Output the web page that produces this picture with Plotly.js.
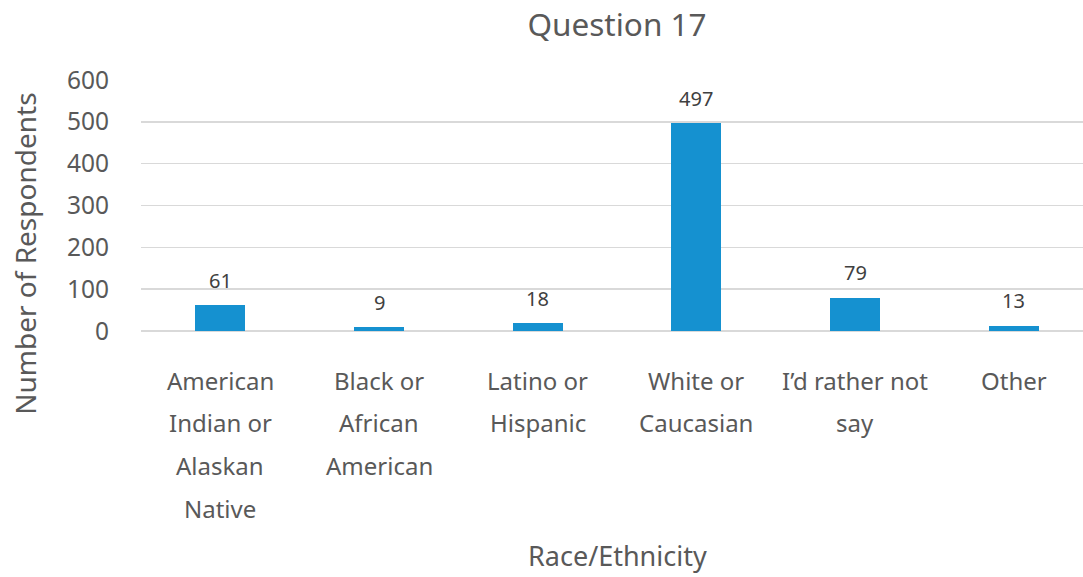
<!DOCTYPE html>
<html>
<head>
<meta charset="utf-8">
<script src="https://cdn.plot.ly/plotly-3.0.1.min.js"></script>
<style>html,body{margin:0;padding:0;background:#fff;}#chart{width:1083px;height:577px;}</style>
</head>
<body>
<div id="chart"></div>
<script>
const categories = ["American<br>Indian or<br>Alaskan<br>Native", "Black or<br>African<br>American", "Latino or<br>Hispanic", "White or<br>Caucasian", "I’d rather not<br>say", "Other"];
const values = [61, 9, 18, 497, 79, 13];
const yTicks = [0, 100, 200, 300, 400, 500, 600];
const chartTitle = "Question 17";
const xTitle = "Race/Ethnicity";
const yTitle = "Number of Respondents";

const FONT = "Noto Sans, Open Sans, sans-serif";
const GREY = "#595959";
const idx = categories.map((c, i) => i);

const L = 141, T = 79.5, W = 942, H = 252;

const annotations = [];
// data labels
values.forEach((v, i) => {
  annotations.push({x: i, y: v, xref: 'x', yref: 'y', text: String(v), showarrow: false,
    yanchor: 'middle', yshift: 25, font: {family: FONT, size: 20, color: '#404040'}});
});
// category labels, one annotation per line
categories.forEach((c, i) => {
  c.split('<br>').forEach((line, k) => {
    annotations.push({x: i, y: 0, xref: 'x', yref: 'y', text: line, showarrow: false,
      yanchor: 'middle', yshift: -(49 + 42.7 * k), font: {family: FONT, size: 24, color: GREY}});
  });
});
// axis titles (pixel positions converted to paper coords)
annotations.push({text: xTitle, showarrow: false, xref: 'paper', yref: 'paper',
  x: (617 - L) / W, y: (T + H - 557) / H, xanchor: 'center', yanchor: 'middle',
  font: {family: FONT, size: 27, color: GREY}});
annotations.push({text: yTitle, showarrow: false, textangle: -90, xref: 'paper', yref: 'paper',
  x: (25 - L) / W, y: (T + H - 254) / H, xanchor: 'center', yanchor: 'middle',
  font: {family: FONT, size: 28, color: GREY}});

const trace = {
  type: 'bar', x: idx, y: values, width: 0.315,
  marker: {color: '#1591D0', line: {width: 0}},
  hoverinfo: 'x+y'
};

const layout = {
  width: 1083, height: 577,
  margin: {l: L, r: 0, t: T, b: 577 - T - H, pad: 0},
  paper_bgcolor: '#ffffff', plot_bgcolor: '#ffffff',
  showlegend: false,
  title: {text: chartTitle, font: {family: FONT, size: 31.5, color: GREY},
    xref: 'container', yref: 'container', x: 617 / 1083, xanchor: 'center', y: 1 - 25 / 577, yanchor: 'middle'},
  xaxis: {range: [-0.5, 5.437], showticklabels: false, showgrid: false, zeroline: false,
    showline: false, ticks: '', fixedrange: true},
  yaxis: {range: [0, 600], tickvals: yTicks, ticktext: yTicks.map(String),
    tickfont: {family: FONT, size: 24.5, color: GREY}, showgrid: true, gridcolor: '#d9d9d9', gridwidth: 1.4,
    zeroline: true, zerolinecolor: '#d9d9d9', zerolinewidth: 1.4, showline: false, ticks: '',
    ticklabelstandoff: 31, automargin: false, fixedrange: true},
  annotations: annotations,
  bargap: 0
};

Plotly.newPlot('chart', [trace], layout, {displayModeBar: false, staticPlot: true});
</script>
</body>
</html>
